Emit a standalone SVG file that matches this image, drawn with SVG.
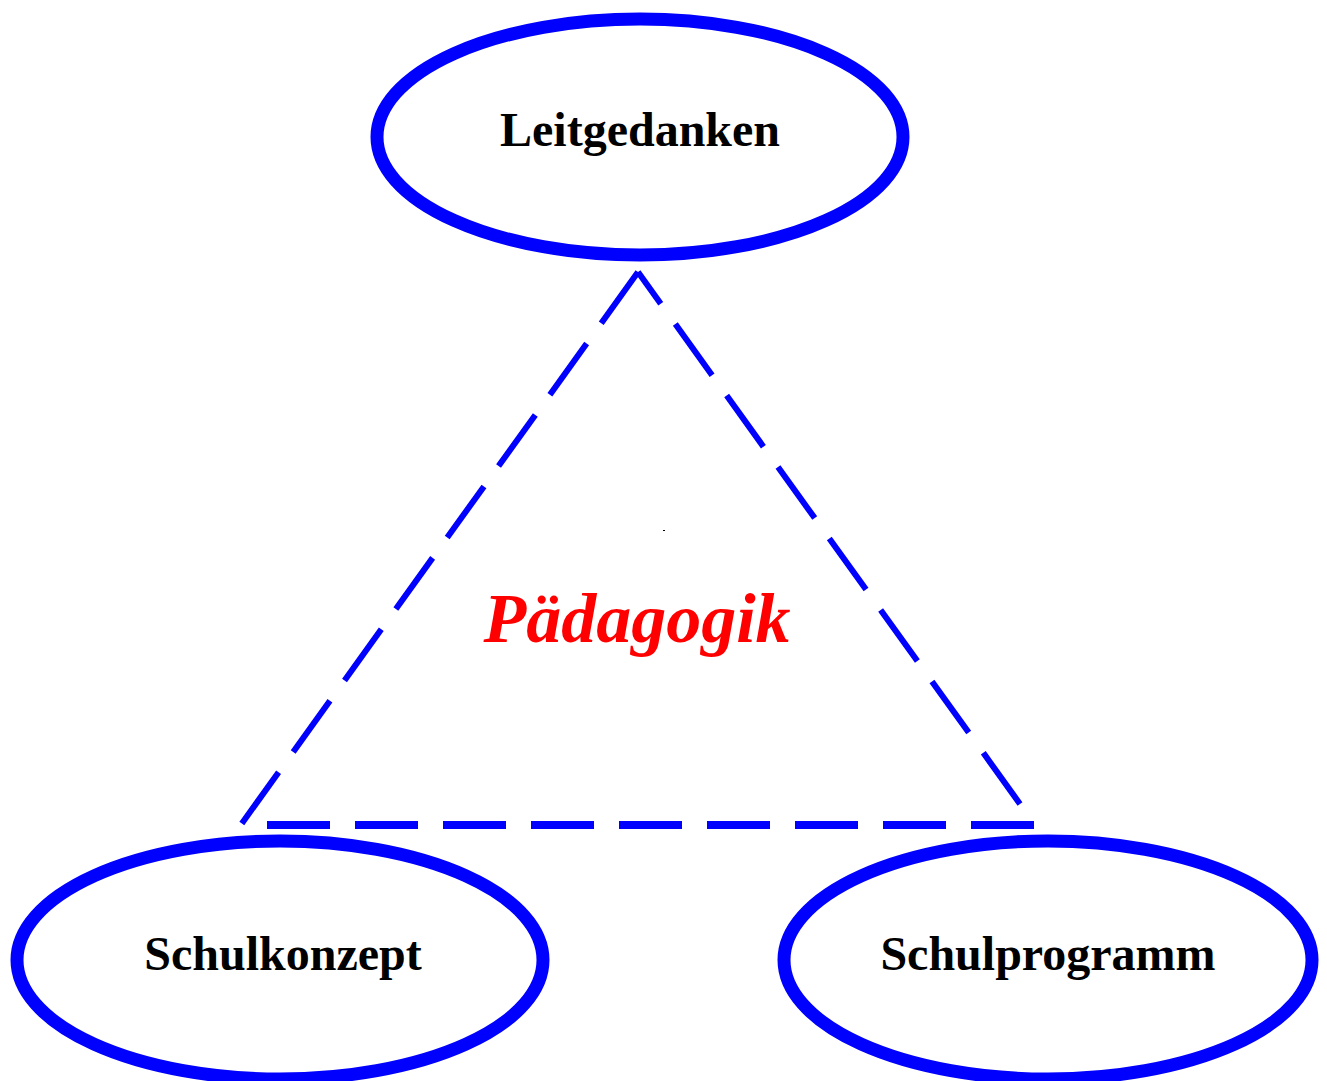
<svg xmlns="http://www.w3.org/2000/svg" width="1327" height="1081" viewBox="0 0 1327 1081">
<style>
.node{fill:none;stroke:#0000ff;stroke-width:13}
.lbl{font-family:"Liberation Serif","Times New Roman",serif;font-weight:bold;font-size:48px;fill:#000;text-anchor:middle}
.leg{fill:none;stroke:#0000ff;stroke-width:6;stroke-dasharray:63 25}
</style>
<rect width="1327" height="1081" fill="#fff"/>
<g id="connectors">
<path class="leg" d="M638 272 L240 826"/>
<path class="leg" d="M638 272 L1020 804" stroke-dashoffset="24"/>
<path class="leg" d="M267 825 L1040 825" style="stroke-width:8"/>
</g>
<g id="leitgedanken">
<ellipse class="node" cx="640" cy="137" rx="263" ry="118"/>
<text class="lbl" x="640" y="146">Leitgedanken</text>
</g>
<g id="schulkonzept">
<ellipse class="node" cx="280" cy="960" rx="263" ry="119"/>
<text class="lbl" x="283" y="970">Schulkonzept</text>
</g>
<g id="schulprogramm">
<ellipse class="node" cx="1048" cy="960" rx="264" ry="119"/>
<text class="lbl" x="1048" y="970">Schulprogramm</text>
</g>
<g id="paedagogik">
<text x="637" y="642" style="font-family:'Liberation Serif','Times New Roman',serif;font-weight:bold;font-style:italic;font-size:70px;fill:#ff0000;text-anchor:middle">Pädagogik</text>
</g>
<rect x="663" y="530" width="2" height="1" fill="#000"/>
</svg>
